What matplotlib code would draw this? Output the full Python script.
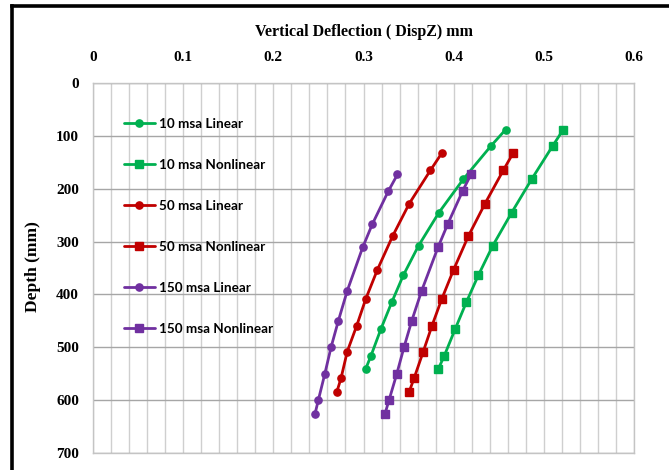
import matplotlib
matplotlib.use("Agg")
import matplotlib.pyplot as plt
from matplotlib.lines import Line2D
from matplotlib.ticker import MultipleLocator

# ---- data ----
depth_10 = [88, 119, 182, 245, 308, 364, 415, 465, 516, 541]
depth_50 = [133, 165, 228, 290, 353, 409, 459, 508, 559, 585]
depth_150 = [173, 204, 267, 311, 393, 450, 500, 551, 600, 626]

defl_10_linear = [0.4577, 0.4414, 0.4107, 0.3837, 0.3610, 0.3441, 0.3313, 0.3194, 0.3083, 0.3024]
defl_10_nonlinear = [0.5216, 0.5098, 0.4865, 0.4644, 0.4433, 0.4273, 0.4140, 0.4018, 0.3896, 0.3830]
defl_50_linear = [0.3867, 0.3743, 0.3508, 0.3322, 0.3155, 0.3024, 0.2925, 0.2820, 0.2750, 0.2703]
defl_50_nonlinear = [0.4658, 0.4551, 0.4348, 0.4162, 0.4000, 0.3867, 0.3760, 0.3663, 0.3560, 0.3505]
defl_150_linear = [0.3377, 0.3277, 0.3098, 0.2991, 0.2820, 0.2721, 0.2640, 0.2570, 0.2499, 0.2462]
defl_150_nonlinear = [0.4192, 0.4100, 0.3934, 0.3826, 0.3645, 0.3535, 0.3449, 0.3368, 0.3283, 0.3238]

labels = ["10 msa Linear", "10 msa Nonlinear", "50 msa Linear",
          "50 msa Nonlinear", "150 msa Linear", "150 msa Nonlinear"]
x_ticks = [0, 0.1, 0.2, 0.3, 0.4, 0.5, 0.6]
x_tick_labels = ["0", "0.1", "0.2", "0.3", "0.4", "0.5", "0.6"]
y_ticks = [0, 100, 200, 300, 400, 500, 600, 700]

title = "Vertical Deflection ( DispZ) mm"
ylabel = "Depth (mm)"

GREEN = "#00B050"
RED = "#C00000"
PURPLE = "#7030A0"

series = [
    (defl_10_linear, depth_10, GREEN, "o"),
    (defl_10_nonlinear, depth_10, GREEN, "s"),
    (defl_50_linear, depth_50, RED, "o"),
    (defl_50_nonlinear, depth_50, RED, "s"),
    (defl_150_linear, depth_150, PURPLE, "o"),
    (defl_150_nonlinear, depth_150, PURPLE, "s"),
]

W, H = 669, 470
fig = plt.figure(figsize=(W / 100, H / 100), dpi=100)
ax = fig.add_axes([93 / W, 1 - 453 / H, (634 - 93) / W, (453 - 83) / H])

for (x, y, c, m), lab in zip(series, labels):
    ax.plot(x, y, color=c, marker=m, markersize=5.2, linewidth=2.0, label=lab,
            solid_capstyle="round")

ax.set_xlim(0, 0.6)
ax.set_ylim(700, 0)
ax.xaxis.tick_top()
ax.set_xticks(x_ticks)
ax.set_xticklabels(x_tick_labels)
ax.set_yticks(y_ticks)
ax.xaxis.set_minor_locator(MultipleLocator(0.02))

for t in ax.get_xticklabels() + ax.get_yticklabels():
    t.set_fontfamily("Liberation Serif")
    t.set_fontweight("bold")
    t.set_fontsize(11)
ax.tick_params(axis="x", which="both", length=0, pad=14)
ax.tick_params(axis="y", which="both", length=0, pad=10)

ax.grid(True, axis="y", which="major", color="#a6a6a6", linewidth=1.0)
ax.grid(True, axis="x", which="both", color="#cfcfcf", linewidth=1.0)
ax.set_axisbelow(True)
for s in ax.spines.values():
    s.set_color("#c4c4c4")
    s.set_linewidth(1.0)

fig.text((93 + 634) / 2 / W, 1 - 32 / H, title, ha="center", va="center",
         fontfamily="Liberation Serif", fontweight="bold", fontsize=11.5)
fig.text(33 / W, 1 - 267 / H, ylabel, ha="center", va="center", rotation=90,
         fontfamily="Liberation Serif", fontweight="bold", fontsize=12.5)

leg = ax.legend(loc="upper left", bbox_to_anchor=((124 - 93) / 541, 1 - (117.5 - 83) / 370),
                frameon=False, borderaxespad=0, borderpad=0,
                labelspacing=2.16, handlelength=2.3, handletextpad=0.3,
                prop=dict(family="Lato", weight="bold", size=9.7))

# outer black frame (top and left edges)
fig.add_artist(Line2D([11.7 / W, 11.7 / W], [0, 1 - 5.5 / H], transform=fig.transFigure,
                      color="black", linewidth=2.6, solid_capstyle="projecting"))
fig.add_artist(Line2D([11.7 / W, 1], [1 - 5.5 / H, 1 - 5.5 / H], transform=fig.transFigure,
                      color="black", linewidth=2.6, solid_capstyle="projecting"))

fig.savefig("out.png", dpi=100)
